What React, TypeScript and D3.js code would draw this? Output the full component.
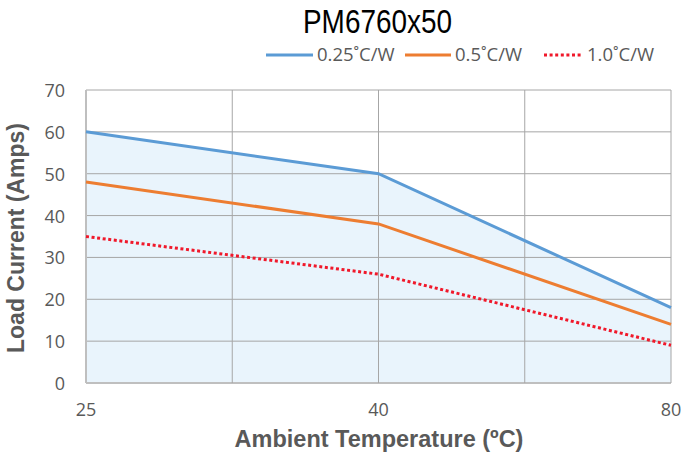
import React from 'react';
import * as d3 from 'd3';

const temps = ['25', '40', '80'];
const series025 = [60, 50, 18];
const series05 = [48, 38, 14];
const series10 = [35, 26, 9];
const yTicks = [0, 10, 20, 30, 40, 50, 60, 70];
const legendLabels = ['0.25˚C/W', '0.5˚C/W', '1.0˚C/W'];

const W = 683;
const H = 457;
const margin = { top: 90, right: 12, bottom: 74, left: 86 };

const App = () => {
  const innerW = W - margin.left - margin.right;
  const innerH = H - margin.top - margin.bottom;

  const x = d3.scalePoint<string>().domain(temps).range([0, innerW]);
  const y = d3.scaleLinear().domain([0, 70]).range([innerH, 0]);

  const pts = (vals: number[]) => temps.map((t, i) => [x(t) as number, y(vals[i])] as [number, number]);
  const line = d3.line<[number, number]>();
  const area = d3.area<[number, number]>().x((d) => d[0]).y0(y(0)).y1((d) => d[1]);

  // vertical gridlines at each category and halfway between
  const xs = temps.map((t) => x(t) as number);
  const vGrid: number[] = [];
  xs.forEach((v, i) => {
    vGrid.push(v);
    if (i < xs.length - 1) vGrid.push((v + xs[i + 1]) / 2);
  });

  const gray = '#595959';
  const tickFont = "'Open Sans', Lato, sans-serif";
  const lines = [
    { vals: series025, color: '#5b9bd5', dash: undefined },
    { vals: series05, color: '#ed7d31', dash: undefined },
    { vals: series10, color: '#f0182a', dash: '3 2.6' },
  ];
  const legendX = [266, 405, 544];
  const legendLen = [47, 46, 39];

  return (
    <svg width={W} height={H} style={{ position: 'absolute', left: 0, top: 0, background: '#fff' }}>
      <text
        x={303}
        y={33}
        textLength={149}
        lengthAdjust="spacingAndGlyphs"
        fontFamily="'Liberation Sans', Arial, sans-serif"
        fontSize={33.5}
        fill="#000"
      >
        PM6760x50
      </text>

      {legendLabels.map((lab, i) => (
        <g key={lab}>
          <line
            x1={legendX[i]}
            x2={legendX[i] + legendLen[i]}
            y1={55}
            y2={55}
            stroke={lines[i].color}
            strokeWidth={3}
            strokeDasharray={lines[i].dash}
          />
          <text
            x={legendX[i] + legendLen[i] + 4}
            y={61}
            fontFamily={tickFont}
            fontSize={18.5}
            fill={gray}
          >
            {lab}
          </text>
        </g>
      ))}

      <g transform={`translate(${margin.left},${margin.top})`}>
        <path d={area(pts(series025)) as string} fill="#e9f4fc" />

        {yTicks.map((t) => (
          <line key={t} x1={0} x2={innerW} y1={y(t)} y2={y(t)} stroke={t === 0 ? '#bfbfbf' : '#a6a6a6'} strokeWidth={t === 0 ? 2 : 1} />
        ))}
        {vGrid.map((v, i) => (
          <line key={i} x1={v} x2={v} y1={0} y2={innerH} stroke={i === 0 ? '#bfbfbf' : '#a6a6a6'} strokeWidth={i === 0 ? 2 : 1} />
        ))}

        {lines.map((s, i) => (
          <path
            key={i}
            d={line(pts(s.vals)) as string}
            fill="none"
            stroke={s.color}
            strokeWidth={3}
            strokeDasharray={s.dash}
          />
        ))}

        {yTicks.map((t) => (
          <text
            key={t}
            x={-21}
            y={y(t) + 7}
            textAnchor="end"
            fontFamily={tickFont}
            fontSize={18}
            fill={gray}
          >
            {t}
          </text>
        ))}
        {temps.map((t) => (
          <text
            key={t}
            x={x(t) as number}
            y={innerH + 33}
            textAnchor="middle"
            fontFamily={tickFont}
            fontSize={18}
            fill={gray}
          >
            {t}
          </text>
        ))}
      </g>

      <text
        x={379}
        y={447}
        textAnchor="middle"
        fontFamily="'Liberation Sans', Arial, sans-serif"
        fontWeight="bold"
        fontSize={23.5}
        fill={gray}
      >
        Ambient Temperature (ºC)
      </text>
      <text
        transform="translate(24,238) rotate(-90)"
        textAnchor="middle"
        fontFamily="'Liberation Sans', Arial, sans-serif"
        fontWeight="bold"
        fontSize={23}
        fill={gray}
      >
        Load Current (Amps)
      </text>
    </svg>
  );
};

export default App;
